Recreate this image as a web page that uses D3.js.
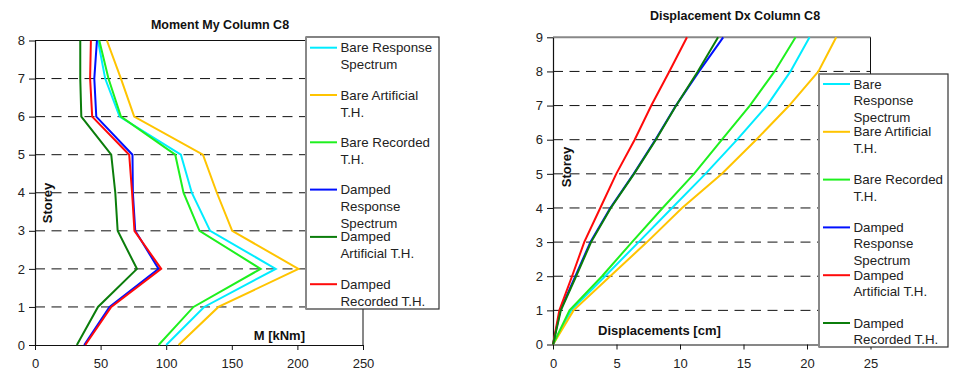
<!DOCTYPE html>
<html>
<head>
<meta charset="utf-8">
<script src="https://cdn.jsdelivr.net/npm/d3@7/dist/d3.min.js"></script>
<style>
  html, body { margin: 0; padding: 0; background: #fff; }
  svg { display: block; font-family: "Liberation Sans", Arial, sans-serif; }
  .tick text { font-size: 13px; fill: #222; }
</style>
</head>
<body>
<svg id="chart" width="956" height="381"></svg>
<script>
// Storey levels
const storeysMoment = [0, 1, 2, 3, 4, 5, 6, 7, 8];
const storeysDisp = [0, 1, 2, 3, 4, 5, 6, 7, 8, 9];

// Bending moment My in column C8 [kNm], storey 0..8
const momentBareRS   = [100, 128.9, 183.5, 133.5, 119.5, 111.2, 64.5, 53.5, 48];
const momentBareArt  = [109.4, 139.8, 200.8, 150.3, 138.6, 128, 75.6, 65.5, 54.8];
const momentBareRec  = [94.2, 120.8, 172, 125.4, 113.2, 106.9, 65.5, 56, 49];
const momentDampRS   = [37.5, 56.8, 94.2, 76.4, 74.6, 74.3, 46.7, 45.2, 47.2];
const momentDampArt  = [31.9, 48, 77.7, 63, 61.2, 58.1, 35.3, 34.5, 34.5];
const momentDampRec  = [38.3, 58.1, 96.2, 75.8, 74.0, 71.8, 43.6, 42, 42.6];

// Displacement Dx in column C8 [cm], storey 0..9
const dispBareRS  = [0, 1.44, 4.1, 6.74, 9.37, 12.0, 14.5, 16.85, 18.7, 20.2];
const dispBareArt = [0, 1.62, 4.5, 7.4, 10.16, 13.3, 16.0, 18.6, 20.9, 22.3];
const dispBareRec = [0, 1.3, 3.86, 6.22, 8.63, 11.1, 13.3, 15.5, 17.45, 19.1];
const dispDampRS  = [0, 0.57, 1.76, 2.94, 4.51, 6.35, 8.06, 9.68, 11.5, 13.4];
const dispDampArt = [0, 0.5, 1.5, 2.46, 3.72, 4.98, 6.43, 7.74, 9.16, 10.55];
const dispDampRec = [0, 0.62, 1.82, 3.0, 4.55, 6.38, 8.1, 9.7, 11.4, 13.0];

// Tick values
const momentTicks = [0, 50, 100, 150, 200, 250];
const dispTicks = [0, 5, 10, 15, 20, 25];

const colors = {
  cyan: "#00ecff", orange: "#ffc400", green: "#1ef01e",
  blue: "#0010ff", darkgreen: "#0b7d0b", red: "#ff0a0a"
};

const svg = d3.select("#chart");

function drawPanel(cfg) {
  const g = svg.append("g");
  const x = d3.scaleLinear().domain(cfg.xDomain).range(cfg.xRange);
  const y = d3.scaleLinear().domain(cfg.yDomain).range(cfg.yRange);
  const [x0, x1] = cfg.xRange;
  const [yb, yt] = cfg.yRange;

  // dashed storey gridlines
  g.selectAll("line.grid")
    .data(d3.range(cfg.yDomain[0] + 1, cfg.yDomain[1]))
    .join("line")
    .attr("x1", x0).attr("x2", x1)
    .attr("y1", d => y(d)).attr("y2", d => y(d))
    .attr("stroke", "#111").attr("stroke-width", 1)
    .attr("stroke-dasharray", "10,6.5");

  // top and right border of plot area
  g.append("line").attr("x1", x0).attr("x2", x1).attr("y1", yt).attr("y2", yt)
    .attr("stroke", cfg.topColor).attr("stroke-width", cfg.topWidth);
  g.append("line").attr("x1", x1).attr("x2", x1).attr("y1", yt).attr("y2", yb)
    .attr("stroke", "#111").attr("stroke-width", 1);

  // axes
  const xAxis = d3.axisBottom(x).tickValues(cfg.xTicks).tickSize(5).tickSizeOuter(0).tickPadding(9);
  const yAxis = d3.axisLeft(y).ticks(cfg.yDomain[1]).tickSize(6).tickSizeOuter(0).tickPadding(4);
  const gx = g.append("g").attr("transform", `translate(0,${yb})`).call(xAxis);
  const gy = g.append("g").attr("transform", `translate(${x0},0)`).call(yAxis);
  [gx, gy].forEach(a => {
    a.select(".domain").attr("stroke", "#111").attr("stroke-width", 1.2);
    a.selectAll(".tick line").attr("stroke", "#111");
    a.selectAll(".tick text").attr("font-family", "Liberation Sans, Arial, sans-serif");
  });

  // series lines
  const line = d3.line().x(d => x(d[0])).y(d => y(d[1]));
  cfg.series.forEach(s => {
    g.append("path")
      .datum(s.values.map((v, i) => [v, cfg.storeys[i]]))
      .attr("d", line)
      .attr("fill", "none")
      .attr("stroke", s.color)
      .attr("stroke-width", 2)
      .attr("stroke-linejoin", "miter");
  });

  // title and axis labels
  g.append("text").attr("x", cfg.title.x).attr("y", cfg.title.y)
    .attr("text-anchor", "middle").attr("font-weight", "bold").attr("font-size", 12.5)
    .attr("fill", "#111").text(cfg.title.text);
  g.append("text")
    .attr("transform", `translate(${cfg.storeyLabel.x},${cfg.storeyLabel.y}) rotate(-90)`)
    .attr("text-anchor", "middle").attr("font-weight", "bold").attr("font-size", 13)
    .attr("fill", "#111").text("Storey");
  g.append("text").attr("x", cfg.xLabel.x).attr("y", cfg.xLabel.y)
    .attr("text-anchor", cfg.xLabel.anchor).attr("font-weight", "bold").attr("font-size", 13)
    .attr("fill", "#111").text(cfg.xLabel.text);

  // legend
  const L = cfg.legend;
  const lg = g.append("g");
  lg.append("rect").attr("x", L.x).attr("y", L.y).attr("width", L.w).attr("height", L.h)
    .attr("fill", "#fff").attr("stroke", "#333").attr("stroke-width", 1.2);
  lg.append("line").attr("x1", L.x).attr("x2", L.x).attr("y1", L.y).attr("y2", L.y + L.h)
    .attr("stroke", "#888").attr("stroke-width", 2);
  cfg.series.forEach((s, i) => {
    const cy = L.firstY + i * L.step;
    lg.append("line").attr("x1", L.x + 4).attr("x2", L.x + 31).attr("y1", cy).attr("y2", cy)
      .attr("stroke", s.color).attr("stroke-width", 2);
    const t = lg.append("text").attr("x", L.x + 34.5).attr("y", cy + 4.5)
      .attr("font-size", 13.3).attr("fill", "#222");
    s.label.forEach((ln, j) => {
      t.append("tspan").attr("x", L.x + 34.5).attr("dy", j === 0 ? 0 : L.lineH).text(ln);
    });
  });
}

drawPanel({
  xDomain: [0, 250], xRange: [35, 363],
  yDomain: [0, 8], yRange: [345, 40.5],
  xTicks: momentTicks, storeys: storeysMoment,
  topColor: "#111", topWidth: 1.2,
  title: { text: "Moment My Column C8", x: 220, y: 28.5 },
  storeyLabel: { x: 52, y: 203 },
  xLabel: { text: "M [kNm]", x: 305, y: 340, anchor: "end" },
  legend: { x: 306, y: 37, w: 133, h: 272, firstY: 47.7, step: 47.3, lineH: 17 },
  series: [
    { color: colors.cyan, values: momentBareRS, label: ["Bare Response", "Spectrum"] },
    { color: colors.orange, values: momentBareArt, label: ["Bare Artificial", "T.H."] },
    { color: colors.green, values: momentBareRec, label: ["Bare Recorded", "T.H."] },
    { color: colors.blue, values: momentDampRS, label: ["Damped", "Response", "Spectrum"] },
    { color: colors.darkgreen, values: momentDampArt, label: ["Damped", "Artificial T.H."] },
    { color: colors.red, values: momentDampRec, label: ["Damped", "Recorded T.H."] }
  ]
});

drawPanel({
  xDomain: [0, 25], xRange: [553, 870.5],
  yDomain: [0, 9], yRange: [344.5, 37.3],
  xTicks: dispTicks, storeys: storeysDisp,
  topColor: "#888", topWidth: 2,
  title: { text: "Displacement Dx Column C8", x: 735, y: 20 },
  storeyLabel: { x: 571, y: 167 },
  xLabel: { text: "Displacements [cm]", x: 598, y: 335, anchor: "start" },
  legend: { x: 819, y: 74, w: 129, h: 273, firstY: 84, step: 47.8, lineH: 16.5 },
  series: [
    { color: colors.cyan, values: dispBareRS, label: ["Bare", "Response", "Spectrum"] },
    { color: colors.orange, values: dispBareArt, label: ["Bare Artificial", "T.H."] },
    { color: colors.green, values: dispBareRec, label: ["Bare Recorded", "T.H."] },
    { color: colors.blue, values: dispDampRS, label: ["Damped", "Response", "Spectrum"] },
    { color: colors.red, values: dispDampArt, label: ["Damped", "Artificial T.H."] },
    { color: colors.darkgreen, values: dispDampRec, label: ["Damped", "Recorded T.H."] }
  ]
});
</script>
</body>
</html>
